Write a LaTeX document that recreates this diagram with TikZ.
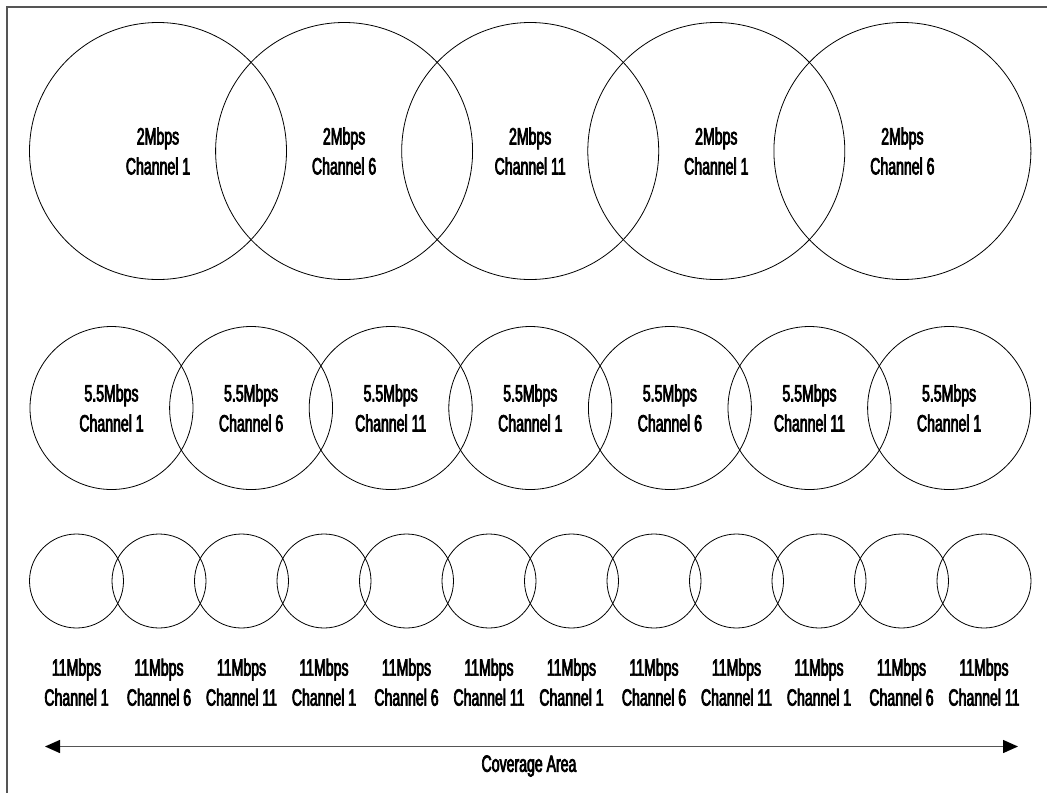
\documentclass[tikz,border=0pt]{standalone}
\usepackage{fontspec}
\setmainfont{Liberation Sans}[FakeStretch=0.6,BoldFont=Liberation Sans,
  BoldFeatures={FakeBold=3}]
\usepackage{tikz}
\usetikzlibrary{arrows.meta,positioning}
\definecolor{CellInk}{HTML}{000000}
\definecolor{FrameGray}{HTML}{555555}
\tikzset{
  cell/.style={circle,draw=CellInk,line width=0.8pt,inner sep=0pt,align=center,
    font=\bfseries\fontsize{23.5}{30}\selectfont},
  bigcell/.style={cell,minimum size=257pt},
  midcell/.style={cell,minimum size=163pt},
  smallcell/.style={cell,minimum size=94pt},
  cellname/.style={align=center,inner sep=0pt,font=\bfseries\fontsize{23.5}{30}\selectfont},
  span/.style={{Triangle[length=15pt,width=13pt,color=black]}-{Triangle[length=15pt,width=13pt,color=black]},
    line width=1.4pt,draw=FrameGray},
  frameline/.style={line width=2pt,draw=FrameGray}
}

\begin{document}
\begin{tikzpicture}[x=1pt,y=-1pt]
  \useasboundingbox (0,0) rectangle (1047,793);
  \draw[frameline] (1047,7) -- (7,7) -- (7,793);
  % 2Mbps row
  \node[bigcell] (t1) at (158,151) {2Mbps\\Channel 1};
  \node[bigcell] (t2) at (344.1,151) {2Mbps\\Channel 6};
  \node[bigcell] (t3) at (530.2,151) {2Mbps\\Channel 11};
  \node[bigcell] (t4) at (716.3,151) {2Mbps\\Channel 1};
  \node[bigcell] (t5) at (902.4,151) {2Mbps\\Channel 6};
  % 5.5Mbps row
  \node[midcell] (m1) at (111.5,408) {5.5Mbps\\Channel 1};
  \node[midcell] (m2) at (251.1,408) {5.5Mbps\\Channel 6};
  \node[midcell] (m3) at (390.7,408) {5.5Mbps\\Channel 11};
  \node[midcell] (m4) at (530.3,408) {5.5Mbps\\Channel 1};
  \node[midcell] (m5) at (669.9,408) {5.5Mbps\\Channel 6};
  \node[midcell] (m6) at (809.5,408) {5.5Mbps\\Channel 11};
  \node[midcell] (m7) at (949.1,408) {5.5Mbps\\Channel 1};
  % 11Mbps row
  \node[smallcell] (s1) at (76.5,581) {};
  \node[smallcell] (s2) at (159,581) {};
  \node[smallcell] (s3) at (241.5,581) {};
  \node[smallcell] (s4) at (324,581) {};
  \node[smallcell] (s5) at (406.5,581) {};
  \node[smallcell] (s6) at (489,581) {};
  \node[smallcell] (s7) at (571.5,581) {};
  \node[smallcell] (s8) at (654,581) {};
  \node[smallcell] (s9) at (736.5,581) {};
  \node[smallcell] (s10) at (819,581) {};
  \node[smallcell] (s11) at (901.5,581) {};
  \node[smallcell] (s12) at (984,581) {};
  \node[cellname,below=30pt of s1] (n1) {11Mbps\\Channel 1};
  \node[cellname,below=30pt of s2] (n2) {11Mbps\\Channel 6};
  \node[cellname,below=30pt of s3] (n3) {11Mbps\\Channel 11};
  \node[cellname,below=30pt of s4] (n4) {11Mbps\\Channel 1};
  \node[cellname,below=30pt of s5] (n5) {11Mbps\\Channel 6};
  \node[cellname,below=30pt of s6] (n6) {11Mbps\\Channel 11};
  \node[cellname,below=30pt of s7] (n7) {11Mbps\\Channel 1};
  \node[cellname,below=30pt of s8] (n8) {11Mbps\\Channel 6};
  \node[cellname,below=30pt of s9] (n9) {11Mbps\\Channel 11};
  \node[cellname,below=30pt of s10] (n10) {11Mbps\\Channel 1};
  \node[cellname,below=30pt of s11] (n11) {11Mbps\\Channel 6};
  \node[cellname,below=30pt of s12] (n12) {11Mbps\\Channel 11};
  % coverage
  \coordinate (covL) at (45,746.5);
  \coordinate (covR) at (1018,746.5);
  \draw[span] (covL) -- (covR);
  \node[cellname] (cov) at (529,766) {Coverage Area};
\end{tikzpicture}
\end{document}
